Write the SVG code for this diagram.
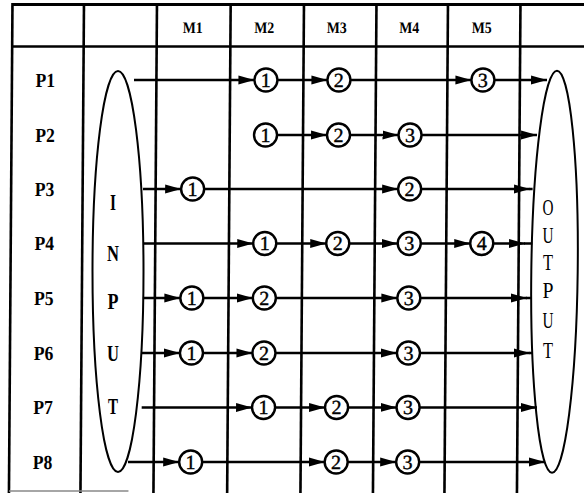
<svg xmlns="http://www.w3.org/2000/svg" width="584" height="493" viewBox="0 0 584 493">
<style>
.grid line{stroke:#000;stroke-width:2.6;fill:none}
.lbl{font-family:"Liberation Serif","Times New Roman",serif;font-weight:bold;font-size:20px;text-anchor:middle;fill:#000}
.hdr{font-family:"Liberation Serif","Times New Roman",serif;font-weight:bold;font-size:16px;text-anchor:middle;fill:#000}
.op circle{fill:#fff;stroke:#000;stroke-width:2.4}
.op text{font-family:"Liberation Serif","Times New Roman",serif;font-size:20px;text-anchor:middle;fill:#000;stroke:#000;stroke-width:0.4}
.conn line{stroke:#000;stroke-width:2.3}
.io ellipse{fill:none;stroke:#000;stroke-width:2}
.io text{font-family:"Liberation Serif","Times New Roman",serif;text-anchor:middle;fill:#000}
</style>
<defs>
<marker id="ah" markerUnits="userSpaceOnUse" markerWidth="17" markerHeight="10" refX="16" refY="5" orient="auto">
<path d="M0,0.5 L16,5 L0,9.5 z" fill="#000"/>
</marker>
</defs>
<rect width="584" height="493" fill="#fff"/>
<g transform="skewX(-0.4125)">
<g id="table" class="grid">
<line x1="12.5" y1="4.5" x2="588" y2="4.5" style="stroke-width:3"/>
<line x1="12.5" y1="46.5" x2="588" y2="46.5"/>
<line x1="12.5" y1="3" x2="12.5" y2="493"/>
<line x1="84" y1="3" x2="84" y2="493"/>
<line x1="157" y1="3" x2="157" y2="493"/>
<line x1="230.7" y1="3" x2="230.7" y2="493"/>
<line x1="304" y1="3" x2="304" y2="493"/>
<line x1="376.5" y1="3" x2="376.5" y2="493"/>
<line x1="448" y1="3" x2="448" y2="493"/>
<line x1="520.5" y1="3" x2="520.5" y2="493"/>
<line x1="12.5" y1="491" x2="132" y2="491" style="stroke:#888;stroke-width:1.5"/>
</g>
<g id="headers">
<text class="hdr" x="193" y="33.5" textLength="20" lengthAdjust="spacingAndGlyphs">M1</text>
<text class="hdr" x="264.5" y="33.5" textLength="20" lengthAdjust="spacingAndGlyphs">M2</text>
<text class="hdr" x="337" y="33.5" textLength="20" lengthAdjust="spacingAndGlyphs">M3</text>
<text class="hdr" x="409.5" y="33.5" textLength="20" lengthAdjust="spacingAndGlyphs">M4</text>
<text class="hdr" x="482" y="33.5" textLength="20" lengthAdjust="spacingAndGlyphs">M5</text>
</g>
<g id="rows">
<text class="lbl" x="46" y="87" textLength="19.5" lengthAdjust="spacingAndGlyphs">P1</text>
<text class="lbl" x="46" y="142" textLength="19.5" lengthAdjust="spacingAndGlyphs">P2</text>
<text class="lbl" x="46" y="196" textLength="19.5" lengthAdjust="spacingAndGlyphs">P3</text>
<text class="lbl" x="46" y="250.5" textLength="19.5" lengthAdjust="spacingAndGlyphs">P4</text>
<text class="lbl" x="46" y="305" textLength="19.5" lengthAdjust="spacingAndGlyphs">P5</text>
<text class="lbl" x="46" y="360" textLength="19.5" lengthAdjust="spacingAndGlyphs">P6</text>
<text class="lbl" x="46" y="414.5" textLength="19.5" lengthAdjust="spacingAndGlyphs">P7</text>
<text class="lbl" x="46" y="469" textLength="19.5" lengthAdjust="spacingAndGlyphs">P8</text>
</g>
<g id="connectors" class="conn">
<line x1="134.6" y1="80" x2="255" y2="80" marker-end="url(#ah)"/>
<line x1="278" y1="80" x2="328" y2="80" marker-end="url(#ah)"/>
<line x1="351" y1="80" x2="472" y2="80" marker-end="url(#ah)"/>
<line x1="495" y1="80" x2="547.6" y2="80" marker-end="url(#ah)"/>

<line x1="278" y1="135" x2="328" y2="135" marker-end="url(#ah)"/>
<line x1="351" y1="135" x2="399.5" y2="135" marker-end="url(#ah)"/>
<line x1="422.5" y1="135" x2="538" y2="135" marker-end="url(#ah)"/>

<line x1="144.4" y1="189" x2="182.5" y2="189" marker-end="url(#ah)"/>
<line x1="205.5" y1="189" x2="399.5" y2="189" marker-end="url(#ah)"/>
<line x1="422.5" y1="189" x2="531.4" y2="189" marker-end="url(#ah)"/>
<line x1="531" y1="189" x2="534" y2="189"/>

<line x1="145" y1="243.5" x2="255" y2="243.5" marker-end="url(#ah)"/>
<line x1="278" y1="243.5" x2="328" y2="243.5" marker-end="url(#ah)"/>
<line x1="351" y1="243.5" x2="399.5" y2="243.5" marker-end="url(#ah)"/>
<line x1="422.5" y1="243.5" x2="472" y2="243.5" marker-end="url(#ah)"/>
<line x1="495" y1="243.5" x2="526.8" y2="243.5" marker-end="url(#ah)"/>
<line x1="526" y1="243.5" x2="534" y2="243.5"/>

<line x1="145" y1="298" x2="182.5" y2="298" marker-end="url(#ah)"/>
<line x1="205.5" y1="298" x2="255" y2="298" marker-end="url(#ah)"/>
<line x1="278" y1="298" x2="399.5" y2="298" marker-end="url(#ah)"/>
<line x1="422.5" y1="298" x2="529.1" y2="298" marker-end="url(#ah)"/>
<line x1="528" y1="298" x2="533.5" y2="298"/>

<line x1="144.2" y1="353" x2="182.5" y2="353" marker-end="url(#ah)"/>
<line x1="205.5" y1="353" x2="255" y2="353" marker-end="url(#ah)"/>
<line x1="278" y1="353" x2="399.5" y2="353" marker-end="url(#ah)"/>
<line x1="422.5" y1="353" x2="532.5" y2="353" marker-end="url(#ah)"/>
<line x1="532" y1="353" x2="535" y2="353"/>

<line x1="144.6" y1="407.5" x2="255" y2="407.5" marker-end="url(#ah)"/>
<line x1="278" y1="407.5" x2="328" y2="407.5" marker-end="url(#ah)"/>
<line x1="351" y1="407.5" x2="399.5" y2="407.5" marker-end="url(#ah)"/>
<line x1="422.5" y1="407.5" x2="539.9" y2="407.5" marker-end="url(#ah)"/>

<line x1="131.3" y1="462" x2="182.5" y2="462" marker-end="url(#ah)"/>
<line x1="205.5" y1="462" x2="328" y2="462" marker-end="url(#ah)"/>
<line x1="351" y1="462" x2="399.5" y2="462" marker-end="url(#ah)"/>
<line x1="422.5" y1="462" x2="548.3" y2="462" marker-end="url(#ah)"/>
</g>
<g id="ops" class="op">
<g id="p1-1"><circle cx="266.5" cy="80" r="11.5"/><text x="266.5" y="87">1</text></g>
<g id="p1-2"><circle cx="339.5" cy="80" r="11.5"/><text x="339.5" y="87">2</text></g>
<g id="p1-3"><circle cx="483.5" cy="80" r="11.5"/><text x="483.5" y="87">3</text></g>

<g id="p2-1"><circle cx="266.5" cy="135" r="11.5"/><text x="266.5" y="142">1</text></g>
<g id="p2-2"><circle cx="339.5" cy="135" r="11.5"/><text x="339.5" y="142">2</text></g>
<g id="p2-3"><circle cx="411" cy="135" r="11.5"/><text x="411" y="142">3</text></g>

<g id="p3-1"><circle cx="194" cy="189" r="11.5"/><text x="194" y="196">1</text></g>
<g id="p3-2"><circle cx="411" cy="189" r="11.5"/><text x="411" y="196">2</text></g>

<g id="p4-1"><circle cx="266.5" cy="243.5" r="11.5"/><text x="266.5" y="250.5">1</text></g>
<g id="p4-2"><circle cx="339.5" cy="243.5" r="11.5"/><text x="339.5" y="250.5">2</text></g>
<g id="p4-3"><circle cx="411" cy="243.5" r="11.5"/><text x="411" y="250.5">3</text></g>
<g id="p4-4"><circle cx="483.5" cy="243.5" r="11.5"/><text x="483.5" y="250.5">4</text></g>

<g id="p5-1"><circle cx="194" cy="298" r="11.5"/><text x="194" y="305">1</text></g>
<g id="p5-2"><circle cx="266.5" cy="298" r="11.5"/><text x="266.5" y="305">2</text></g>
<g id="p5-3"><circle cx="411" cy="298" r="11.5"/><text x="411" y="305">3</text></g>

<g id="p6-1"><circle cx="194" cy="353" r="11.5"/><text x="194" y="360">1</text></g>
<g id="p6-2"><circle cx="266.5" cy="353" r="11.5"/><text x="266.5" y="360">2</text></g>
<g id="p6-3"><circle cx="411" cy="353" r="11.5"/><text x="411" y="360">3</text></g>

<g id="p7-1"><circle cx="266.5" cy="407.5" r="11.5"/><text x="266.5" y="414.5">1</text></g>
<g id="p7-2"><circle cx="339.5" cy="407.5" r="11.5"/><text x="339.5" y="414.5">2</text></g>
<g id="p7-3"><circle cx="411" cy="407.5" r="11.5"/><text x="411" y="414.5">3</text></g>

<g id="p8-1"><circle cx="194" cy="462" r="11.5"/><text x="194" y="469">1</text></g>
<g id="p8-2"><circle cx="339.5" cy="462" r="11.5"/><text x="339.5" y="469">2</text></g>
<g id="p8-3"><circle cx="411" cy="462" r="11.5"/><text x="411" y="469">3</text></g>
</g>
</g>
<g id="input" class="io">
<ellipse cx="118" cy="271.5" rx="25.5" ry="200.5"/>
<g style="font-size:23px;font-weight:bold">
<text x="113" y="209.5" textLength="6" lengthAdjust="spacingAndGlyphs">I</text>
<text x="113" y="260.5" textLength="12" lengthAdjust="spacingAndGlyphs">N</text>
<text x="113" y="309" textLength="11" lengthAdjust="spacingAndGlyphs">P</text>
<text x="113" y="360.5" textLength="12" lengthAdjust="spacingAndGlyphs">U</text>
<text x="113" y="414" textLength="10" lengthAdjust="spacingAndGlyphs">T</text>
</g>
</g>
<g id="output" class="io">
<ellipse cx="554.5" cy="271.7" rx="23.2" ry="201" transform="rotate(0.71 554.5 271.7)"/>
<g style="font-size:24px">
<text x="548" y="214.7" textLength="11" lengthAdjust="spacingAndGlyphs">O</text>
<text x="548" y="243" textLength="11" lengthAdjust="spacingAndGlyphs">U</text>
<text x="548" y="269.7" textLength="10" lengthAdjust="spacingAndGlyphs">T</text>
<text x="548" y="298" textLength="11" lengthAdjust="spacingAndGlyphs">P</text>
<text x="548" y="328" textLength="11" lengthAdjust="spacingAndGlyphs">U</text>
<text x="548" y="358" textLength="10" lengthAdjust="spacingAndGlyphs">T</text>
</g>
</g>
</svg>
